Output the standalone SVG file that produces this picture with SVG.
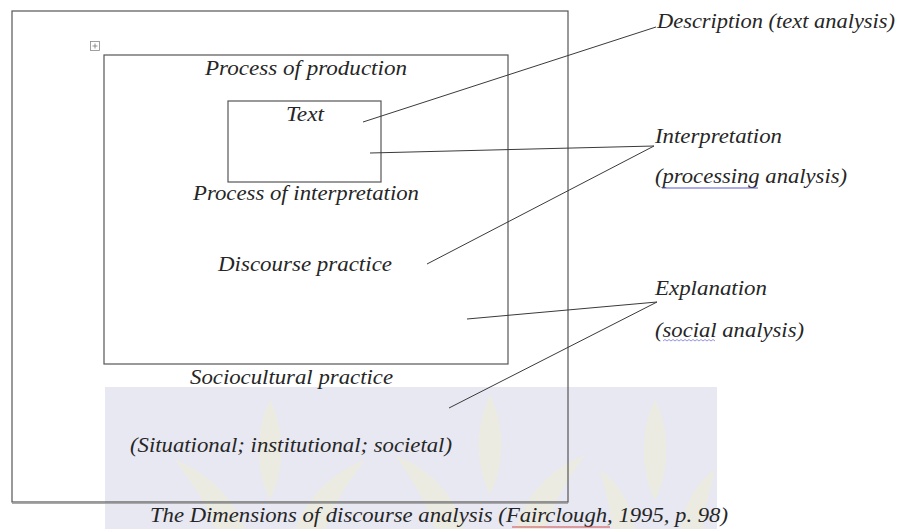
<svg xmlns="http://www.w3.org/2000/svg" width="897" height="529" viewBox="0 0 897 529">
<style>
.t{font-family:"Liberation Serif","Times New Roman",serif;font-style:italic;font-size:20.5px;fill:#262626}
.box{fill:none;stroke:#555;stroke-width:1.2}
.con{stroke:#3a3a3a;stroke-width:1;fill:none}
.wm{fill:#eeecdc;opacity:0.75}
</style>
<rect width="897" height="529" fill="#ffffff"/>
<g id="watermark">
<rect x="105" y="387" width="612" height="142" fill="#e8e8f2"/>
<path class="wm" d="M270 400 C255 430 255 470 270 500 C285 470 285 430 270 400Z"/>
<path class="wm" d="M175 460 C200 470 230 490 245 529 L215 529 C205 500 190 480 175 460Z"/>
<path class="wm" d="M365 460 C340 470 310 490 295 529 L325 529 C335 500 350 480 365 460Z"/>
<path class="wm" d="M490 395 C475 425 475 465 490 495 C505 465 505 425 490 395Z"/>
<path class="wm" d="M395 455 C420 465 450 485 465 529 L435 529 C425 500 410 475 395 455Z"/>
<path class="wm" d="M585 455 C560 465 530 485 515 529 L545 529 C555 500 570 475 585 455Z"/>
<path class="wm" d="M655 400 C640 430 640 470 655 500 C670 470 670 430 655 400Z"/>
<path class="wm" d="M600 470 C615 480 630 500 635 529 L612 529 C610 505 605 490 600 470Z"/>
<path class="wm" d="M715 470 C700 480 685 500 680 529 L703 529 C705 505 710 490 715 470Z"/>
</g>
<g id="outer">
<rect class="box" x="12" y="11" width="556" height="491"/>
<line x1="12" y1="503.5" x2="568" y2="503.5" stroke="#aaa" stroke-width="1"/>
<text class="t" x="190" y="384" textLength="203" lengthAdjust="spacingAndGlyphs">Sociocultural practice</text>
<text class="t" x="130" y="452" textLength="322" lengthAdjust="spacingAndGlyphs">(Situational; institutional; societal)</text>
</g>
<g id="anchor">
<rect x="90.5" y="41.5" width="9" height="9" fill="none" stroke="#888" stroke-width="0.8"/>
<path d="M92.5 46 H97.5 M95 43.5 V48.5" stroke="#777" stroke-width="0.8"/>
</g>
<g id="middle">
<rect class="box" x="104" y="55" width="404" height="309"/>
<text class="t" x="205" y="75" textLength="202" lengthAdjust="spacingAndGlyphs">Process of production</text>
<text class="t" x="193" y="200" textLength="226" lengthAdjust="spacingAndGlyphs">Process of interpretation</text>
<text class="t" x="218" y="271" textLength="174" lengthAdjust="spacingAndGlyphs">Discourse practice</text>
</g>
<g id="inner">
<rect class="box" x="228" y="101" width="153" height="81"/>
<text class="t" x="286" y="121" textLength="38" lengthAdjust="spacingAndGlyphs">Text</text>
</g>
<g id="connectors">
<line class="con" x1="363" y1="122" x2="656" y2="27"/>
<line class="con" x1="370" y1="153" x2="654" y2="146"/>
<line class="con" x1="427" y1="264" x2="654" y2="146"/>
<line class="con" x1="467" y1="319" x2="657" y2="302"/>
<line class="con" x1="449" y1="408" x2="657" y2="302"/>
</g>
<g id="description">
<text class="t" x="657" y="28" textLength="238" lengthAdjust="spacingAndGlyphs">Description (text analysis)</text>
</g>
<g id="interpretation">
<text class="t" x="655" y="143" textLength="127" lengthAdjust="spacingAndGlyphs">Interpretation</text>
<text class="t" x="655" y="183" textLength="192" lengthAdjust="spacingAndGlyphs">(processing analysis)</text>
<line x1="662" y1="188" x2="758" y2="188" stroke="#5a5ad0" stroke-width="1"/>
</g>
<g id="explanation">
<text class="t" x="655" y="295" textLength="112" lengthAdjust="spacingAndGlyphs">Explanation</text>
<text class="t" x="655" y="337" textLength="149" lengthAdjust="spacingAndGlyphs">(social analysis)</text>
<path d="M663 341 l2 -1.5 l2 1.5 l2 -1.5 l2 1.5 l2 -1.5 l2 1.5 l2 -1.5 l2 1.5 l2 -1.5 l2 1.5 l2 -1.5 l2 1.5 l2 -1.5 l2 1.5 l2 -1.5 l2 1.5 l2 -1.5 l2 1.5 l2 -1.5 l2 1.5 l2 -1.5 l2 1.5 l2 -1.5 l2 1.5 l2 -1.5 l2 1.5" fill="none" stroke="#7a7ae0" stroke-width="0.8"/>
</g>
<g id="caption">
<text class="t" x="150" y="522" textLength="578" lengthAdjust="spacingAndGlyphs">The Dimensions of discourse analysis (Fairclough, 1995, p. 98)</text>
<line x1="512" y1="527" x2="610" y2="527" stroke="#d04a4a" stroke-width="1.2"/>
</g>
</svg>
